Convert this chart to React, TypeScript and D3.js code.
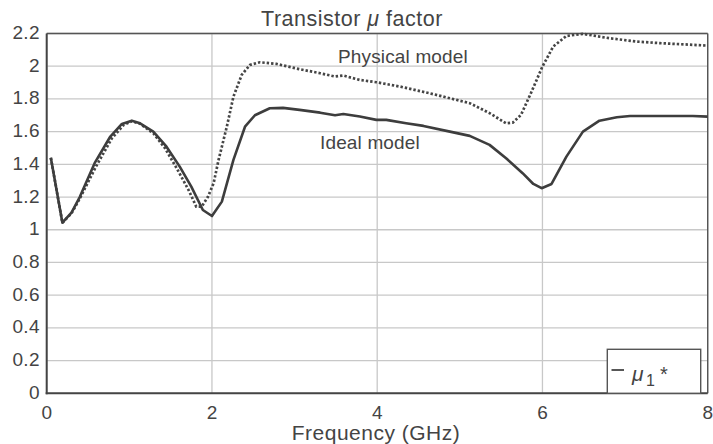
import React from "react";
import * as d3 from "d3";

const xTicks = [0, 2, 4, 6, 8];
const yTicks = [0, 0.2, 0.4, 0.6, 0.8, 1, 1.2, 1.4, 1.6, 1.8, 2, 2.2];
const yTickLabels = ["0", "0.2", "0.4", "0.6", "0.8", "1", "1.2", "1.4", "1.6", "1.8", "2", "2.2"];

const idealFreq = [0.05, 0.19, 0.3, 0.4, 0.58, 0.77, 0.91, 1.03, 1.13, 1.29, 1.45, 1.61, 1.75, 1.89, 2.0, 2.12, 2.26, 2.4, 2.52, 2.7, 2.86, 3.06, 3.31, 3.49, 3.59, 3.79, 3.99, 4.11, 4.35, 4.56, 4.88, 5.12, 5.36, 5.56, 5.76, 5.89, 5.99, 6.11, 6.29, 6.49, 6.69, 6.9, 7.06, 7.82, 8.0];
const idealMu = [1.44, 1.043, 1.105, 1.2, 1.407, 1.57, 1.647, 1.667, 1.651, 1.6, 1.508, 1.386, 1.264, 1.121, 1.084, 1.172, 1.427, 1.63, 1.7, 1.743, 1.745, 1.733, 1.716, 1.7, 1.708, 1.692, 1.672, 1.672, 1.651, 1.635, 1.6, 1.574, 1.519, 1.437, 1.346, 1.28, 1.254, 1.28, 1.447, 1.6, 1.667, 1.688, 1.696, 1.696, 1.692];

const physFreq = [0.05, 0.19, 0.3, 0.4, 0.6, 0.79, 0.93, 1.03, 1.13, 1.29, 1.43, 1.58, 1.72, 1.81, 1.875, 1.95, 2.02, 2.08, 2.18, 2.26, 2.36, 2.46, 2.58, 2.78, 3.06, 3.31, 3.49, 3.59, 3.79, 3.99, 4.28, 4.49, 4.63, 4.88, 5.12, 5.36, 5.56, 5.64, 5.74, 5.86, 6.0, 6.13, 6.29, 6.49, 6.81, 7.14, 7.42, 8.0];
const physMu = [1.44, 1.043, 1.1, 1.19, 1.39, 1.56, 1.64, 1.663, 1.648, 1.59, 1.5, 1.37, 1.24, 1.141, 1.141, 1.2, 1.284, 1.427, 1.63, 1.814, 1.947, 2.008, 2.024, 2.014, 1.982, 1.957, 1.937, 1.943, 1.916, 1.902, 1.875, 1.851, 1.835, 1.804, 1.774, 1.713, 1.651, 1.655, 1.702, 1.835, 1.998, 2.12, 2.185, 2.198, 2.171, 2.151, 2.141, 2.126];

const W = 713;
const H = 444;
const L = 46.7, R = 707.7, T = 33.5, B = 393.3;
const FONT = "'Liberation Sans', Arial, Helvetica, sans-serif";
const TXT = "#444";

export default function App() {
  const x = d3.scaleLinear().domain([0, 8]).range([L, R]);
  const y = d3.scaleLinear().domain([0, 2.2]).range([B, T]);
  const line = d3
    .line<[number, number]>()
    .x((d) => x(d[0]))
    .y((d) => y(d[1]));
  const idealPts = idealFreq.map((f, i) => [f, idealMu[i]] as [number, number]);
  const physPts = physFreq.map((f, i) => [f, physMu[i]] as [number, number]);

  return (
    <div style={{ position: "fixed", left: 0, top: 0 }}>
      <svg width={W} height={H} style={{ display: "block", background: "#fff" }} fontFamily={FONT}>
        <rect x={0} y={0} width={W} height={H} fill="#fff" />
        {/* grid */}
        {yTicks.map((t) => (
          <line key={"gy" + t} x1={L} x2={R} y1={y(t)} y2={y(t)} stroke="#c8c8c8" strokeWidth={1.3} />
        ))}
        {xTicks.map((t) => (
          <line key={"gx" + t} x1={x(t)} x2={x(t)} y1={T} y2={B} stroke="#c8c8c8" strokeWidth={1.3} />
        ))}
        {/* frame */}
        <line x1={L} x2={R} y1={T} y2={T} stroke="#555" strokeWidth={1.4} />
        <line x1={R} x2={R} y1={T} y2={B} stroke="#555" strokeWidth={1.4} />
        <line x1={L} x2={L} y1={T} y2={B + 1} stroke="#444" strokeWidth={2} />
        <line x1={L - 1} x2={R} y1={B} y2={B} stroke="#444" strokeWidth={2} />
        {/* series */}
        <path d={line(physPts) || ""} fill="none" stroke="#454545" strokeWidth={2.7} strokeDasharray="2.4 2" />
        <path d={line(idealPts) || ""} fill="none" stroke="#3d3d3d" strokeWidth={2.6} strokeLinejoin="round" />
        {/* y tick labels */}
        {yTicks.map((t, i) => (
          <text key={"ty" + t} x={40} y={y(t) - 1} textAnchor="end" dominantBaseline="central" fontSize={19} letterSpacing={0.4} fill={TXT}>
            {yTickLabels[i]}
          </text>
        ))}
        {xTicks.map((t) => (
          <text key={"tx" + t} x={x(t)} y={418.5} textAnchor="middle" fontSize={19} fill={TXT}>
            {String(t)}
          </text>
        ))}
        {/* titles */}
        <text x={352} y={26} textAnchor="middle" fontSize={21.5} letterSpacing={0.5} fill={TXT}>
          Transistor <tspan fontStyle="italic">μ</tspan> factor
        </text>
        <text x={376} y={440} textAnchor="middle" fontSize={21} letterSpacing={0.5} fill={TXT}>
          Frequency (GHz)
        </text>
        <text x={338} y={63} fontSize={19} letterSpacing={0.15} fill={TXT}>
          Physical model
        </text>
        <text x={320} y={149} fontSize={19} letterSpacing={0.15} fill={TXT}>
          Ideal model
        </text>
        {/* legend */}
        <rect x={607.3} y={349.3} width={93.4} height={44} fill="#fff" stroke="#555" strokeWidth={1.4} />
        <line x1={611.5} x2={624} y1={370} y2={370} stroke="#444" strokeWidth={1.8} />
        <text x={632} y={381} fontSize={21} fill={TXT} fontStyle="italic">
          μ
        </text>
        <text x={646} y={386} fontSize={16} fill={TXT}>
          1
        </text>
        <text x={660} y={381} fontSize={20} fill={TXT}>
          *
        </text>
      </svg>
    </div>
  );
}
